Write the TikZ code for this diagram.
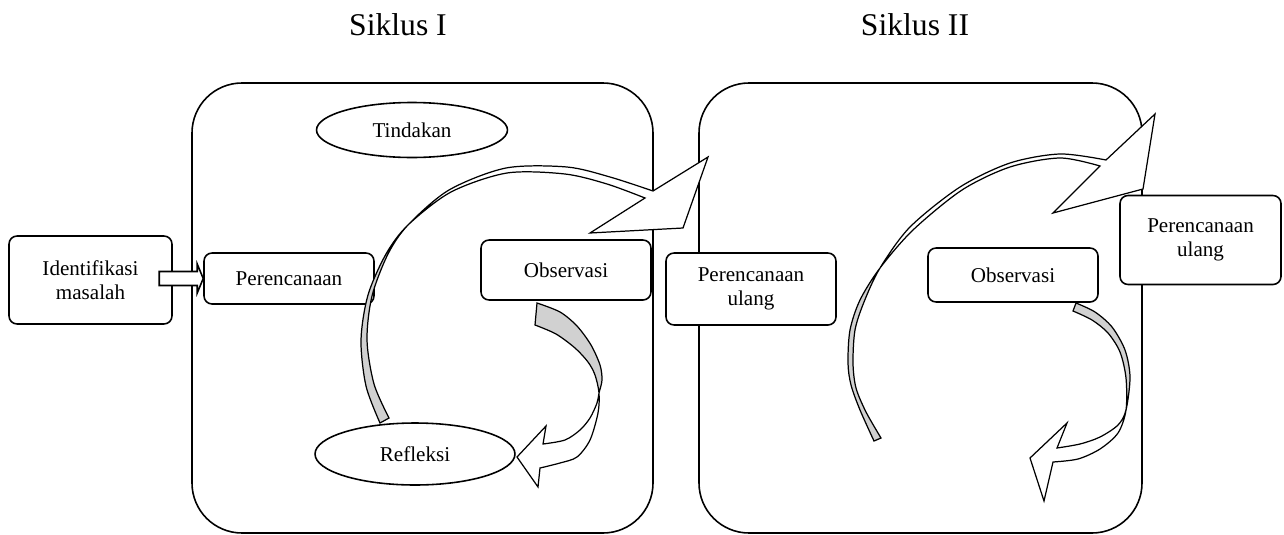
\documentclass[tikz,border=0pt]{standalone}
\usepackage{fontspec}
\setmainfont{Liberation Serif}
\usetikzlibrary{shapes.geometric}
\definecolor{bandgray}{gray}{0.82}

\begin{document}
\begin{tikzpicture}[x=0.02cm, y=-0.02cm, font=\fontsize{12}{14}\selectfont,
  kotak/.style={draw, line width=0.9pt, rounded corners=0.16cm, fill=white, align=center, inner sep=0pt},
  lingkar/.style={draw, ellipse, line width=0.9pt, fill=white, inner sep=0pt},
  judul/.style={font=\fontsize{18}{22}\selectfont, anchor=base},
  panel/.style={line width=0.9pt, rounded corners=1cm},
  pita/.style={draw, line width=0.7pt, line join=miter},
  masuk/.style={draw, line width=0.9pt, fill=white, line join=miter}]
\useasboundingbox (0,0) rectangle (1284,534);

\draw[panel] (192,83) rectangle (653,533);
\draw[panel] (699,83) rectangle (1142,533);
\node[judul] (siklusA) at (398,35) {Siklus I};
\node[judul] (siklusB) at (915,35) {Siklus II};

\node[kotak, minimum width=3.26cm, minimum height=1.76cm] (identifikasi) at (90.5,280) {Identifikasi\\masalah};
\node[kotak, minimum width=3.4cm, minimum height=1.02cm] (perencanaan) at (289,278.5) {Perencanaan};
\node[kotak, minimum width=3.4cm, minimum height=1.2cm] (observasi) at (566,270) {Observasi};
\node[lingkar, minimum width=3.82cm, minimum height=1.1cm] (tindakan) at (412,130) {Tindakan};
\node[lingkar, minimum width=4cm, minimum height=1.24cm] (refleksi) at (415,454) {Refleksi};
\node[kotak, minimum width=3.4cm, minimum height=1.44cm] (ulangA) at (751,289) {Perencanaan\\ulang};
\node[kotak, minimum width=3.4cm, minimum height=1.08cm] (observasiB) at (1013,275) {Observasi};
\node[kotak, minimum width=3.22cm, minimum height=1.78cm] (ulangB) at (1200.5,240) {Perencanaan\\ulang};

\draw[masuk] (perencanaan.west) -- ++(-6,-14.5) -- ++(0,7.5) -- ++(-38,0) -- ++(0,14) -- ++(38,0) -- ++(0,7.5) -- cycle;

% siklus I
\path[save path=\pitaA] plot[smooth] coordinates {(380,423) (366,386) (361,340) (368,295) (386,254) (408,225) (451,192) (507,173) (565,174) (607,184) (645,198)}
  -- (590,233) -- (683,228) -- (708,157)
  -- plot[smooth] coordinates {(653,191) (610,177) (567,167) (506,168) (449,190) (408,225) (388,254) (372,296) (367,340) (374,384) (389,418)} -- cycle;
\path[save path=\pitaB] plot[smooth] coordinates {(537,303) (560,312) (577,326) (591,345) (600,365) (602,380) (599,393) (597,403) (590,418) (580,430) (565,440) (543,444)}
  -- (546,426) -- (517,457) -- (538,487)
  -- plot[smooth] coordinates {(540,468) (560,463) (577,457) (590,440) (598,413) (599,393) (595,375) (588,362) (575,348) (556,334) (535,325)} -- cycle;

% siklus II
\path[save path=\pitaC] plot[smooth] coordinates {(874,441) (860,410) (851,385) (848,363) (850,330) (860,300) (880,268) (913,230) (962,190) (1010,167) (1060,158) (1100,166)}
  -- (1053,213) -- (1143,189) -- (1155,114)
  -- plot[smooth] coordinates {(1106,160) (1060,154) (1010,163) (960,187) (910,227) (880,268) (864,302) (855,330) (853,363) (856,388) (866,412) (881,438)} -- cycle;
\path[save path=\pitaD] plot[smooth] coordinates {(1076,303) (1095,312) (1112,327) (1125,350) (1130,377) (1126,410) (1118,425) (1100,437) (1080,444) (1057,448)}
  -- (1067,423) -- (1030,458) -- (1044,501)
  -- plot[smooth] coordinates {(1053,462) (1078,459) (1100,449) (1118,433) (1126,410) (1126,378) (1120,352) (1108,333) (1092,320) (1073,311)} -- cycle;

\fill[white, use path=\pitaA];
\fill[white, use path=\pitaB];
\fill[white, use path=\pitaC];
\fill[white, use path=\pitaD];
\begin{scope}
  \clip (300,225) rectangle (450,440);
  \fill[bandgray, use path=\pitaA];
\end{scope}
\begin{scope}
  \clip (520,295) rectangle (620,393);
  \fill[bandgray, use path=\pitaB];
\end{scope}
\begin{scope}
  \clip (830,268) rectangle (900,450);
  \fill[bandgray, use path=\pitaC];
\end{scope}
\begin{scope}
  \clip (1060,295) rectangle (1140,410);
  \fill[bandgray, use path=\pitaD];
\end{scope}
\path[pita, use path=\pitaA];
\path[pita, use path=\pitaB];
\path[pita, use path=\pitaC];
\path[pita, use path=\pitaD];
\end{tikzpicture}
\end{document}
